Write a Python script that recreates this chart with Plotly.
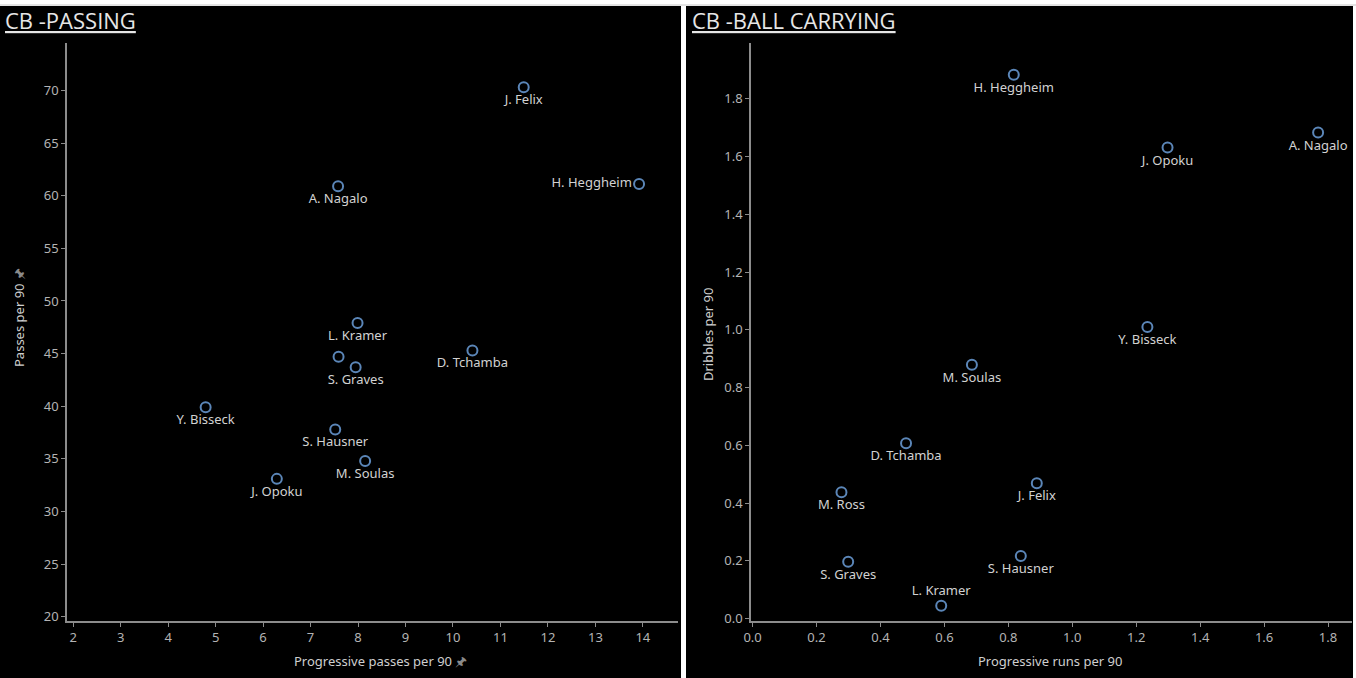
import plotly.graph_objects as go

# --- data ---
pass_players = ['J. Felix', 'H. Heggheim', 'A. Nagalo', 'L. Kramer', 'M. Ross', 'S. Graves',
                'D. Tchamba', 'Y. Bisseck', 'S. Hausner', 'M. Soulas', 'J. Opoku']
prog_passes = [11.49, 13.92, 7.58, 7.99, 7.59, 7.95, 10.41, 4.79, 7.52, 8.15, 6.29]
passes = [70.3, 61.1, 60.9, 47.9, 44.7, 43.7, 45.3, 39.9, 37.8, 34.8, 33.1]
# M. Ross has no visible label on the passing chart (hidden by overlap)
pass_labels = [p if p != 'M. Ross' else '' for p in pass_players]
pass_textpos = ['middle left' if p == 'H. Heggheim' else 'bottom center' for p in pass_players]

carry_players = ['H. Heggheim', 'J. Opoku', 'A. Nagalo', 'Y. Bisseck', 'M. Soulas', 'D. Tchamba',
                 'M. Ross', 'J. Felix', 'S. Graves', 'S. Hausner', 'L. Kramer']
prog_runs = [0.817, 1.298, 1.769, 1.235, 0.686, 0.480, 0.278, 0.889, 0.299, 0.839, 0.590]
dribbles = [1.883, 1.631, 1.683, 1.010, 0.879, 0.607, 0.438, 0.469, 0.197, 0.217, 0.045]
carry_textpos = ['top center' if p == 'L. Kramer' else 'bottom center' for p in carry_players]

W, H = 1356, 678
AXIS_GREY = '#8c8c8c'
TICK_TXT = '#b4b4b4'
LABEL_TXT = '#d2d2d2'
MARK = '#5b86b8'
PIN = '\U0001F588'


def px(x):
    return x / W


def py(y):
    return 1 - y / H


fig = go.Figure()

fig.add_trace(go.Scatter(
    x=prog_passes, y=passes, text=pass_labels,
    mode='markers+text', textposition=pass_textpos,
    textfont=dict(family='Noto Sans', size=13, color=LABEL_TXT),
    marker=dict(symbol='circle-open', size=10, color=MARK, line=dict(width=2, color=MARK)),
    xaxis='x', yaxis='y', hoverinfo='skip', cliponaxis=False
))

fig.add_trace(go.Scatter(
    x=prog_runs, y=dribbles, text=carry_players,
    mode='markers+text', textposition=carry_textpos,
    textfont=dict(family='Noto Sans', size=13, color=LABEL_TXT),
    marker=dict(symbol='circle-open', size=10, color=MARK, line=dict(width=2, color=MARK)),
    xaxis='x2', yaxis='y2', hoverinfo='skip', cliponaxis=False
))

axis_style = dict(
    showline=True, linecolor=AXIS_GREY, linewidth=1.5,
    ticks='outside', ticklen=4, tickcolor=AXIS_GREY, tickwidth=1,
    showgrid=False, zeroline=False, automargin=False,
    tickfont=dict(family='Noto Sans', size=13, color=TICK_TXT),
)

ydom = [py(621), py(43)]

fig.update_layout(
    width=W, height=H,
    margin=dict(l=0, r=0, t=0, b=0, autoexpand=False),
    paper_bgcolor='white',
    plot_bgcolor='black',
    showlegend=False,
    xaxis=dict(domain=[px(67), px(678)], range=[1.87, 14.74], dtick=1, anchor='y', **axis_style),
    yaxis=dict(domain=ydom, range=[19.6, 74.5], dtick=5, anchor='x', **axis_style),
    xaxis2=dict(domain=[px(751), px(1352)], range=[-0.005, 1.875], dtick=0.2,
                tickformat='.1f', anchor='y2', **axis_style),
    yaxis2=dict(domain=ydom, range=[-0.008, 1.993], dtick=0.2,
                tickformat='.1f', anchor='x2', **axis_style),
)

# black panels and top strip
fig.update_layout(shapes=[
    dict(type='rect', xref='paper', yref='paper', x0=0, x1=px(681), y0=0, y1=py(6),
         fillcolor='black', line_width=0, layer='below'),
    dict(type='rect', xref='paper', yref='paper', x0=px(686), x1=px(1353), y0=0, y1=py(6),
         fillcolor='black', line_width=0, layer='below'),
    dict(type='line', xref='paper', yref='paper', x0=0, x1=1, y0=py(5), y1=py(5),
         line=dict(color='#c8c8c8', width=1)),
])

title_font = dict(family='Open Sans', size=22, color='#e6e6e6', lineposition='under')
axt_font = dict(family='Noto Sans', size=13, color='#cfcfcf')

fig.update_layout(annotations=[
    dict(text='CB -PASSING', xref='paper', yref='paper', x=px(3), y=py(20),
         xanchor='left', yanchor='middle', showarrow=False, font=title_font),
    dict(text='CB -BALL CARRYING', xref='paper', yref='paper', x=px(690), y=py(20),
         xanchor='left', yanchor='middle', showarrow=False, font=title_font),
    dict(text='Progressive passes per 90 <span style="color:#8a8a8a">' + PIN + '</span>',
         xref='paper', yref='paper',
         x=px(380), y=py(661), xanchor='center', yanchor='middle', showarrow=False, font=axt_font),
    dict(text='Passes per 90 <span style="color:#8a8a8a">' + PIN + '</span>',
         xref='paper', yref='paper', textangle=-90,
         x=px(19), y=py(318), xanchor='center', yanchor='middle', showarrow=False, font=axt_font),
    dict(text='Progressive runs per 90', xref='paper', yref='paper',
         x=px(1050), y=py(661), xanchor='center', yanchor='middle', showarrow=False, font=axt_font),
    dict(text='Dribbles per 90', xref='paper', yref='paper', textangle=-90,
         x=px(708), y=py(335), xanchor='center', yanchor='middle', showarrow=False, font=axt_font),
])

fig.write_html('out.html', config={'displayModeBar': False},
               post_script="document.body.style.margin='0';document.body.style.overflow='hidden';")
